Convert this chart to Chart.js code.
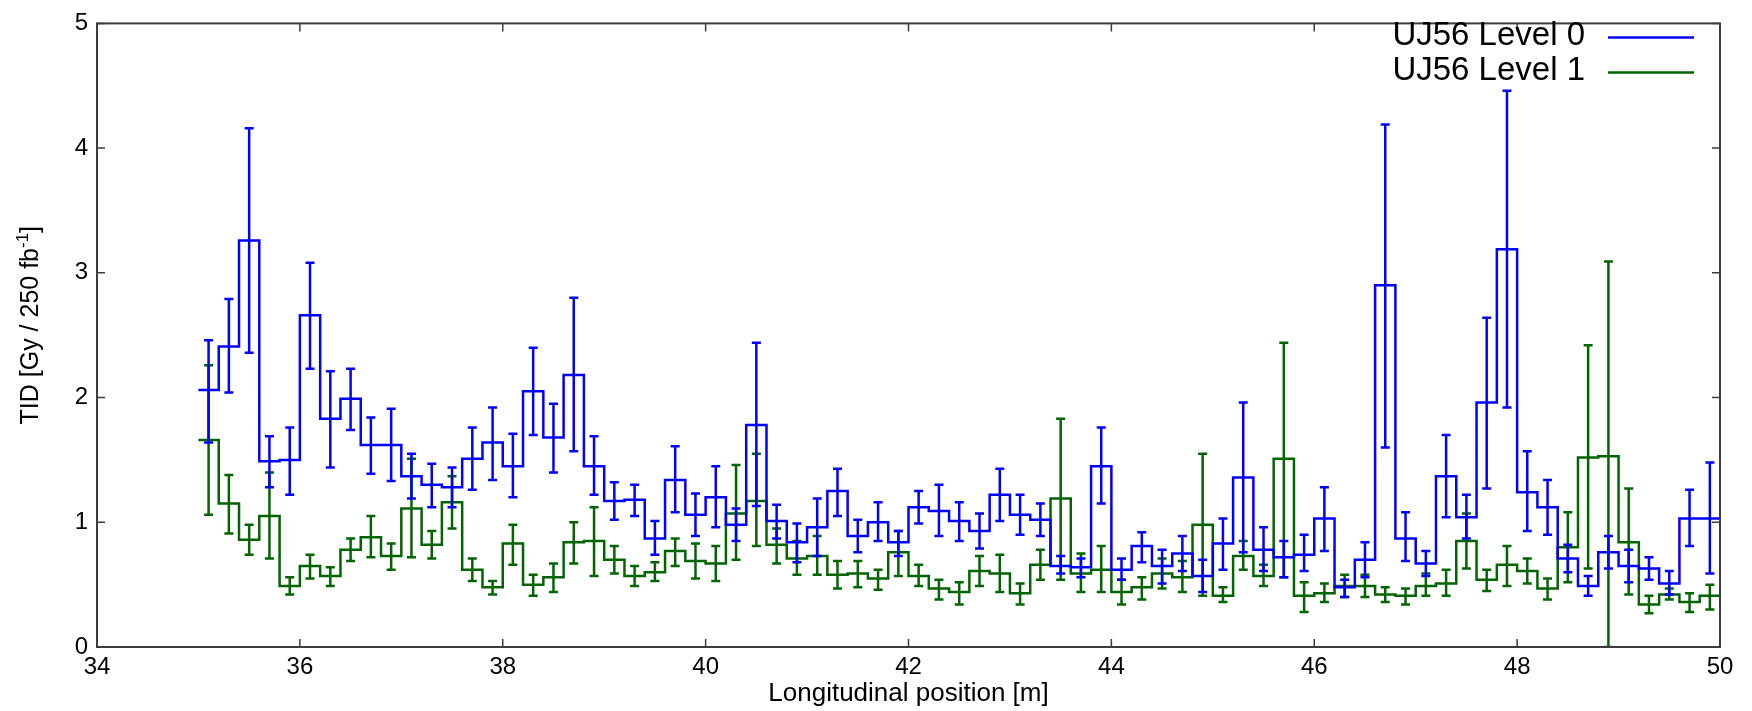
<!DOCTYPE html>
<html>
<head>
<meta charset="utf-8">
<title>TID UJ56</title>
<script src="https://cdn.jsdelivr.net/npm/chart.js@4.4.1/dist/chart.umd.min.js"></script>
<style>
  html, body { margin: 0; padding: 0; background: #fff; }
  #wrap { width: 1752px; height: 711px; }
</style>
</head>
<body>
<div id="wrap"><canvas id="tidChart"></canvas></div>
<script>
// bin centres [m], bins are 0.2 m wide
const binCenters = [
    35.1, 35.3, 35.5, 35.7, 35.9, 36.1, 36.3, 36.5, 36.7, 36.9,
    37.1, 37.3, 37.5, 37.7, 37.9, 38.1, 38.3, 38.5, 38.7, 38.9,
    39.1, 39.3, 39.5, 39.7, 39.9, 40.1, 40.3, 40.5, 40.7, 40.9,
    41.1, 41.3, 41.5, 41.7, 41.9, 42.1, 42.3, 42.5, 42.7, 42.9,
    43.1, 43.3, 43.5, 43.7, 43.9, 44.1, 44.3, 44.5, 44.7, 44.9,
    45.1, 45.3, 45.5, 45.7, 45.9, 46.1, 46.3, 46.5, 46.7, 46.9,
    47.1, 47.3, 47.5, 47.7, 47.9, 48.1, 48.3, 48.5, 48.7, 48.9,
    49.1, 49.3, 49.5, 49.7, 49.9
];
const binWidth = 0.2;

// UJ56 Level 0
const level0 = [
    2.06, 2.41, 3.26, 1.49, 1.50, 2.66, 1.83, 1.99, 1.62, 1.62,
    1.37, 1.30, 1.28, 1.51, 1.64, 1.45, 2.05, 1.68, 2.18, 1.45,
    1.17, 1.18, 0.87, 1.34, 1.06, 1.20, 0.98, 1.78, 1.01, 0.84,
    0.96, 1.25, 0.89, 1.00, 0.84, 1.12, 1.09, 1.01, 0.93, 1.22,
    1.06, 1.02, 0.65, 0.64, 1.45, 0.62, 0.81, 0.65, 0.75, 0.57,
    0.83, 1.36, 0.78, 0.72, 0.74, 1.03, 0.48, 0.70, 2.90, 0.87,
    0.67, 1.37, 1.04, 1.96, 3.19, 1.24, 1.12, 0.71, 0.49, 0.76,
    0.65, 0.63, 0.51, 1.03, 1.03
];
const level0Low = [
    1.64, 2.04, 2.36, 1.28, 1.22, 2.23, 1.44, 1.74, 1.39, 1.33,
    1.19, 1.12, 1.12, 1.26, 1.34, 1.20, 1.70, 1.40, 1.57, 1.22,
    1.02, 1.05, 0.74, 1.08, 0.89, 0.96, 0.85, 1.13, 0.87, 0.68,
    0.73, 1.05, 0.76, 0.85, 0.73, 0.99, 0.89, 0.85, 0.79, 1.01,
    0.90, 0.89, 0.59, 0.56, 1.15, 0.54, 0.68, 0.51, 0.61, 0.44,
    0.62, 0.76, 0.61, 0.56, 0.61, 0.77, 0.40, 0.56, 1.60, 0.69,
    0.57, 1.04, 0.87, 1.27, 1.92, 0.93, 0.90, 0.60, 0.41, 0.63,
    0.52, 0.54, 0.42, 0.81, 0.59
];
const level0High = [
    2.46, 2.79, 4.16, 1.69, 1.76, 3.08, 2.21, 2.23, 1.84, 1.91,
    1.55, 1.47, 1.44, 1.76, 1.92, 1.71, 2.40, 1.95, 2.80, 1.69,
    1.32, 1.30, 1.01, 1.61, 1.23, 1.45, 1.11, 2.44, 1.14, 0.99,
    1.19, 1.43, 1.02, 1.16, 0.93, 1.25, 1.30, 1.16, 1.07, 1.43,
    1.22, 1.15, 0.73, 0.71, 1.76, 0.71, 0.92, 0.78, 0.89, 0.70,
    1.03, 1.96, 0.96, 0.85, 0.90, 1.28, 0.54, 0.84, 4.19, 1.08,
    0.77, 1.70, 1.22, 2.64, 4.46, 1.57, 1.34, 0.82, 0.57, 0.89,
    0.78, 0.72, 0.61, 1.26, 1.48
];

// UJ56 Level 1
const level1 = [
    1.66, 1.15, 0.86, 1.05, 0.49, 0.65, 0.57, 0.78, 0.88, 0.73,
    1.11, 0.82, 1.16, 0.62, 0.48, 0.83, 0.50, 0.56, 0.84, 0.85,
    0.70, 0.57, 0.60, 0.77, 0.69, 0.67, 1.07, 1.17, 0.82, 0.71,
    0.73, 0.58, 0.59, 0.55, 0.76, 0.57, 0.47, 0.44, 0.61, 0.59,
    0.43, 0.66, 1.19, 0.59, 0.62, 0.44, 0.48, 0.59, 0.56, 0.98,
    0.41, 0.73, 0.57, 1.51, 0.41, 0.43, 0.49, 0.49, 0.42, 0.41,
    0.49, 0.51, 0.85, 0.54, 0.66, 0.61, 0.47, 0.80, 1.52, 1.53,
    0.84, 0.34, 0.42, 0.36, 0.41
];
const level1Low = [
    1.06, 0.91, 0.74, 0.71, 0.42, 0.55, 0.49, 0.69, 0.72, 0.62,
    0.72, 0.71, 0.95, 0.53, 0.42, 0.66, 0.41, 0.44, 0.67, 0.57,
    0.59, 0.49, 0.53, 0.65, 0.55, 0.53, 0.70, 0.81, 0.67, 0.58,
    0.58, 0.47, 0.48, 0.46, 0.57, 0.49, 0.38, 0.34, 0.49, 0.44,
    0.34, 0.54, 0.54, 0.44, 0.44, 0.34, 0.38, 0.47, 0.44, 0.41,
    0.36, 0.62, 0.49, 0.56, 0.28, 0.36, 0.40, 0.40, 0.36, 0.34,
    0.41, 0.41, 0.63, 0.45, 0.49, 0.51, 0.38, 0.52, 0.63, 0.00,
    0.42, 0.27, 0.38, 0.28, 0.30
];
const level1High = [
    2.26, 1.38, 0.98, 1.40, 0.56, 0.74, 0.64, 0.87, 1.05, 0.83,
    1.51, 0.93, 1.37, 0.71, 0.53, 0.98, 0.58, 0.67, 1.00, 1.12,
    0.81, 0.65, 0.68, 0.87, 0.83, 0.81, 1.46, 1.55, 0.95, 0.85,
    0.89, 0.69, 0.69, 0.62, 0.93, 0.66, 0.54, 0.52, 0.73, 0.74,
    0.51, 0.78, 1.83, 0.75, 0.81, 0.54, 0.56, 0.71, 0.69, 1.55,
    0.48, 0.85, 0.66, 2.44, 0.52, 0.51, 0.58, 0.58, 0.48, 0.47,
    0.59, 0.62, 1.07, 0.62, 0.81, 0.71, 0.55, 1.08, 2.42, 3.09,
    1.27, 0.41, 0.47, 0.43, 0.50
];

const seriesNames = ['UJ56 Level 0', 'UJ56 Level 1'];
const xTicks = [34, 36, 38, 40, 42, 44, 46, 48, 50];
const yTicks = [0, 1, 2, 3, 4, 5];

const FONT = "'Liberation Sans', Arial, Helvetica, sans-serif";
const BLUE = '#0000ff';
const GREEN = '#006400';
const FRAME = '#3c3c3c';
const LINE_W = 2.5;

// histogram steps: one point per left bin edge plus the closing right edge
function stepPoints(values) {
    const pts = binCenters.map((c, i) => ({ x: c - binWidth / 2, y: values[i] }));
    pts.push({ x: binCenters[binCenters.length - 1] + binWidth / 2, y: values[values.length - 1] });
    return pts;
}

const errorBars = [
    { low: level0Low, high: level0High },
    { low: level1Low, high: level1High }
];

// draw the error bars right after each histogram, so level 1 sits on top
const errorBarPlugin = {
    id: 'errorBars',
    afterDatasetDraw(chart, args) {
        const err = errorBars[args.index];
        if (!err) return;
        const { ctx, chartArea } = chart;
        const x = chart.scales.x, y = chart.scales.y;
        const cap = 4.5;
        ctx.save();
        ctx.beginPath();
        ctx.rect(chartArea.left, chartArea.top, chartArea.width, chartArea.height);
        ctx.clip();
        ctx.strokeStyle = chart.data.datasets[args.index].borderColor;
        ctx.lineWidth = LINE_W;
        binCenters.forEach((c, i) => {
            const px = x.getPixelForValue(c);
            const lo = y.getPixelForValue(err.low[i]);
            const hi = y.getPixelForValue(err.high[i]);
            ctx.beginPath();
            ctx.moveTo(px, lo);
            ctx.lineTo(px, hi);
            ctx.moveTo(px - cap, lo);
            ctx.lineTo(px + cap, lo);
            ctx.moveTo(px - cap, hi);
            ctx.lineTo(px + cap, hi);
            ctx.stroke();
        });
        ctx.restore();
    }
};

// gnuplot style frame: box, inward ticks on all sides, key and y label
const framePlugin = {
    id: 'frame',
    afterDraw(chart) {
        const { ctx, chartArea: a } = chart;
        const x = chart.scales.x, y = chart.scales.y;
        const tick = 8;
        ctx.save();
        ctx.strokeStyle = FRAME;
        ctx.lineWidth = 2;
        ctx.strokeRect(a.left, a.top, a.width, a.height);
        ctx.lineWidth = 1.5;
        ctx.beginPath();
        xTicks.forEach(v => {
            const px = x.getPixelForValue(v);
            ctx.moveTo(px, a.bottom); ctx.lineTo(px, a.bottom - tick);
            ctx.moveTo(px, a.top); ctx.lineTo(px, a.top + tick);
        });
        yTicks.forEach(v => {
            const py = y.getPixelForValue(v);
            ctx.moveTo(a.left, py); ctx.lineTo(a.left + tick, py);
            ctx.moveTo(a.right, py); ctx.lineTo(a.right - tick, py);
        });
        ctx.stroke();

        // key, top right inside the frame
        const colors = [BLUE, GREEN];
        ctx.font = '33px ' + FONT;
        ctx.fillStyle = '#000';
        ctx.textAlign = 'right';
        ctx.textBaseline = 'alphabetic';
        seriesNames.forEach((name, i) => {
            const base = a.top + 22 + i * 35;
            ctx.fillText(name, a.right - 135, base);
            ctx.strokeStyle = colors[i];
            ctx.lineWidth = LINE_W;
            ctx.beginPath();
            ctx.moveTo(a.right - 112, base - 8);
            ctx.lineTo(a.right - 26, base - 8);
            ctx.stroke();
        });

        // rotated y label with a real superscript
        ctx.translate(38, (a.top + a.bottom) / 2 - 10);
        ctx.rotate(-Math.PI / 2);
        const big = '25px ' + FONT, small = '17px ' + FONT;
        const parts = [['TID [Gy / 250 fb', big, 0], ['-1', small, -10], [']', big, 0]];
        let total = 0;
        parts.forEach(p => { ctx.font = p[1]; total += ctx.measureText(p[0]).width; });
        let cx = -total / 2;
        ctx.textAlign = 'left';
        ctx.fillStyle = '#000';
        parts.forEach(p => {
            ctx.font = p[1];
            ctx.fillText(p[0], cx, p[2]);
            cx += ctx.measureText(p[0]).width;
        });
        ctx.restore();
    }
};

document.addEventListener('DOMContentLoaded', function() {
    const ctx = document.getElementById('tidChart').getContext('2d');
    new Chart(ctx, {
        type: 'line',
        data: {
            datasets: [
                {
                    label: seriesNames[0],
                    data: stepPoints(level0),
                    borderColor: BLUE,
                    borderWidth: LINE_W,
                    stepped: 'before',
                    pointRadius: 0,
                    fill: false
                },
                {
                    label: seriesNames[1],
                    data: stepPoints(level1),
                    borderColor: GREEN,
                    borderWidth: LINE_W,
                    stepped: 'before',
                    pointRadius: 0,
                    fill: false
                }
            ]
        },
        options: {
            responsive: true,
            maintainAspectRatio: false,
            animation: false,
            layout: {
                padding: { left: 0, right: 32, top: 20, bottom: 0 }
            },
            plugins: {
                legend: { display: false },
                tooltip: { enabled: false }
            },
            scales: {
                x: {
                    type: 'linear',
                    min: 34,
                    max: 50,
                    afterBuildTicks: function(scale) {
                        scale.ticks = xTicks.map(v => ({ value: v }));
                    },
                    afterFit: function(scale) {
                        scale.height = 64;
                    },
                    grid: { display: false, drawTicks: false },
                    border: { display: false },
                    ticks: {
                        color: '#000',
                        padding: 6,
                        maxRotation: 0,
                        autoSkip: false,
                        font: { family: FONT, size: 24 }
                    },
                    title: {
                        display: true,
                        text: 'Longitudinal position [m]',
                        color: '#000',
                        font: { family: FONT, size: 26 },
                        padding: { top: 0, bottom: 2 }
                    }
                },
                y: {
                    type: 'linear',
                    min: 0,
                    max: 5,
                    afterBuildTicks: function(scale) {
                        scale.ticks = yTicks.map(v => ({ value: v }));
                    },
                    afterFit: function(scale) {
                        scale.width = 97;
                    },
                    grid: { display: false, drawTicks: false },
                    border: { display: false },
                    ticks: {
                        color: '#000',
                        padding: 9,
                        font: { family: FONT, size: 24 }
                    }
                }
            }
        },
        plugins: [errorBarPlugin, framePlugin]
    });
});
</script>
</body>
</html>
